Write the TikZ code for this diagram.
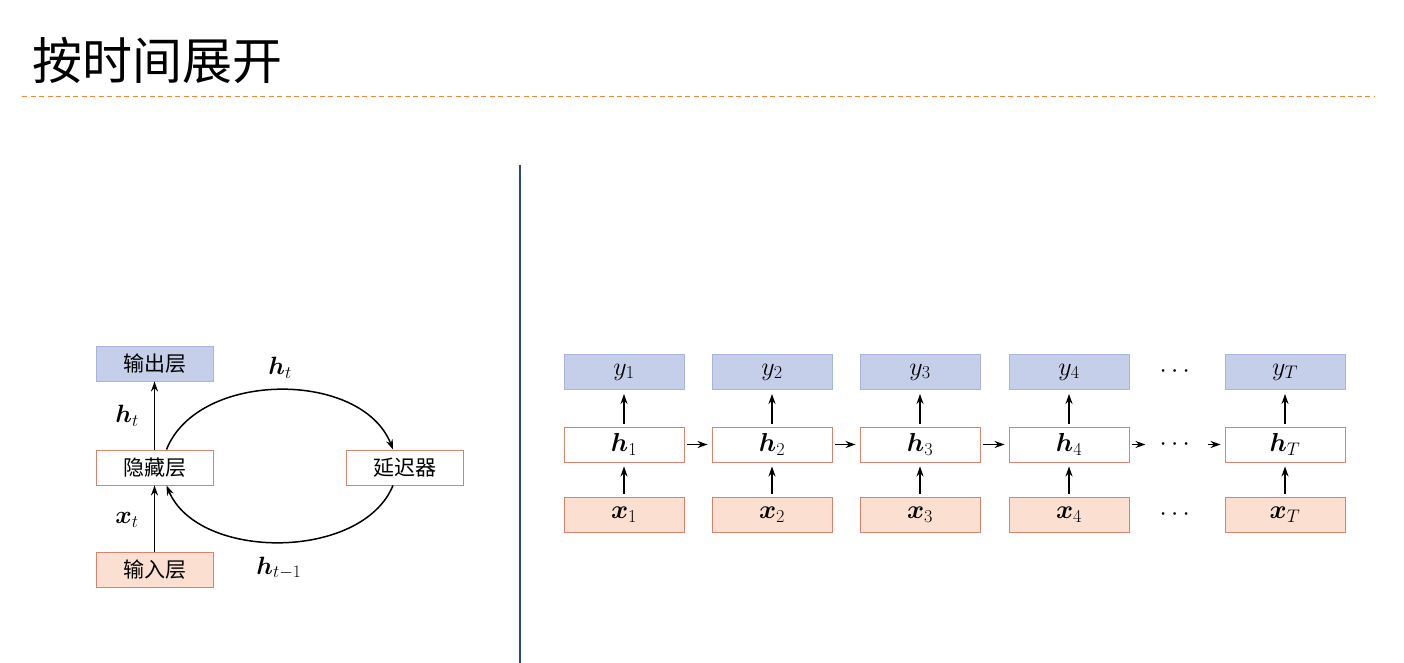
\RequirePackage{fix-cm}
\documentclass[tikz,border=0pt]{standalone}
\usepackage{amsmath}
\usepackage{bm}
\usepackage{fontspec}
\usetikzlibrary{arrows.meta}
\newfontfamily\cjk{Noto Sans CJK SC}
\definecolor{outfill}{HTML}{C6CFEA}
\definecolor{outdraw}{HTML}{A7B4DC}
\definecolor{infill}{HTML}{FBE0D1}
\definecolor{boxdraw}{HTML}{D9826F}
\definecolor{ruleorange}{HTML}{F0883E}
\definecolor{splitnavy}{HTML}{2E4A7D}
\tikzset{
  cell/.style={draw=boxdraw,line width=.9pt,inner sep=0pt,minimum height=35pt,
    font=\fontsize{26}{28}\selectfont},
  outcell/.style={cell,fill=outfill,draw=outdraw},
  hidcell/.style={cell,fill=white},
  incell/.style={cell,fill=infill},
  layer/.style={minimum width=117pt,font=\cjk\fontsize{21}{24}\selectfont},
  flow/.style={-{Stealth[length=10pt,width=7pt]},line width=1.5pt},
  hop/.style={flow,shorten <=3pt,shorten >=4pt},
  lbl/.style={font=\fontsize{25}{28}\selectfont},
  skip/.style={inner xsep=10pt,inner ysep=0pt,font=\fontsize{26}{28}\selectfont}
}
\begin{document}
\begin{tikzpicture}[x=1pt,y=-1pt]
  \useasboundingbox (0,0) rectangle (1404,663);
  \node[anchor=west,font=\cjk\fontsize{50}{54}\selectfont] (title) at (29,60) {按时间展开};
  \draw[ruleorange,line width=1pt,dash pattern=on 5pt off 3.5pt] (22,97) -- (1375,97);
  \draw[splitnavy,line width=1.2pt] (520,165) -- (520,663);

  \node[outcell,layer] (output) at (154.5,363.5) {输出层};
  \node[hidcell,layer] (hidden) at (154.5,467.5) {隐藏层};
  \node[incell,layer] (input) at (154.5,569.5) {输入层};
  \node[hidcell,layer] (delay) at (405,467.5) {延迟器};
  \draw[flow] (hidden) -- (output);
  \draw[flow] (input) -- (hidden);
  \node[lbl] (lhout) at (127,416) {$\bm{h}_t$};
  \node[lbl] (lxin) at (127,520) {$\bm{x}_t$};
  \draw[flow] ([xshift=12pt]hidden.north) .. controls (198,370) and (362,370) .. ([xshift=-12pt]delay.north);
  \draw[flow] ([xshift=-12pt]delay.south) .. controls (362,561) and (198,561) .. ([xshift=12pt]hidden.south);
  \node[lbl] (lhtop) at (280,368) {$\bm{h}_t$};
  \node[lbl] (lhbot) at (279,568) {$\bm{h}_{t-1}$};

  \begin{scope}[every node/.append style={minimum width=120pt}]
    \node[outcell] (y1) at (624,372) {$y_1$};
    \node[hidcell] (h1) at (624,444.5) {$\bm{h}_1$};
    \node[incell] (x1) at (624,514.5) {$\bm{x}_1$};
    \node[outcell] (y2) at (772,372) {$y_2$};
    \node[hidcell] (h2) at (772,444.5) {$\bm{h}_2$};
    \node[incell] (x2) at (772,514.5) {$\bm{x}_2$};
    \node[outcell] (y3) at (920,372) {$y_3$};
    \node[hidcell] (h3) at (920,444.5) {$\bm{h}_3$};
    \node[incell] (x3) at (920,514.5) {$\bm{x}_3$};
    \node[outcell] (y4) at (1069,372) {$y_4$};
    \node[hidcell] (h4) at (1069,444.5) {$\bm{h}_4$};
    \node[incell] (x4) at (1069,514.5) {$\bm{x}_4$};
    \node[outcell] (yT) at (1285,372) {$y_T$};
    \node[hidcell] (hT) at (1285,444.5) {$\bm{h}_T$};
    \node[incell] (xT) at (1285,514.5) {$\bm{x}_T$};
  \end{scope}
  \node[skip] (ydots) at (1177,372) {$\cdots$};
  \node[skip] (hdots) at (1177,444.5) {$\cdots$};
  \node[skip] (xdots) at (1177,514.5) {$\cdots$};

  \draw[hop] (h1) -- (y1);
  \draw[hop] (x1) -- (h1);
  \draw[hop] (h2) -- (y2);
  \draw[hop] (x2) -- (h2);
  \draw[hop] (h3) -- (y3);
  \draw[hop] (x3) -- (h3);
  \draw[hop] (h4) -- (y4);
  \draw[hop] (x4) -- (h4);
  \draw[hop] (hT) -- (yT);
  \draw[hop] (xT) -- (hT);
  \draw[hop] (h1) -- (h2);
  \draw[hop] (h2) -- (h3);
  \draw[hop] (h3) -- (h4);
  \draw[hop] (h4) -- (hdots);
  \draw[hop] (hdots) -- (hT);
\end{tikzpicture}
\end{document}
